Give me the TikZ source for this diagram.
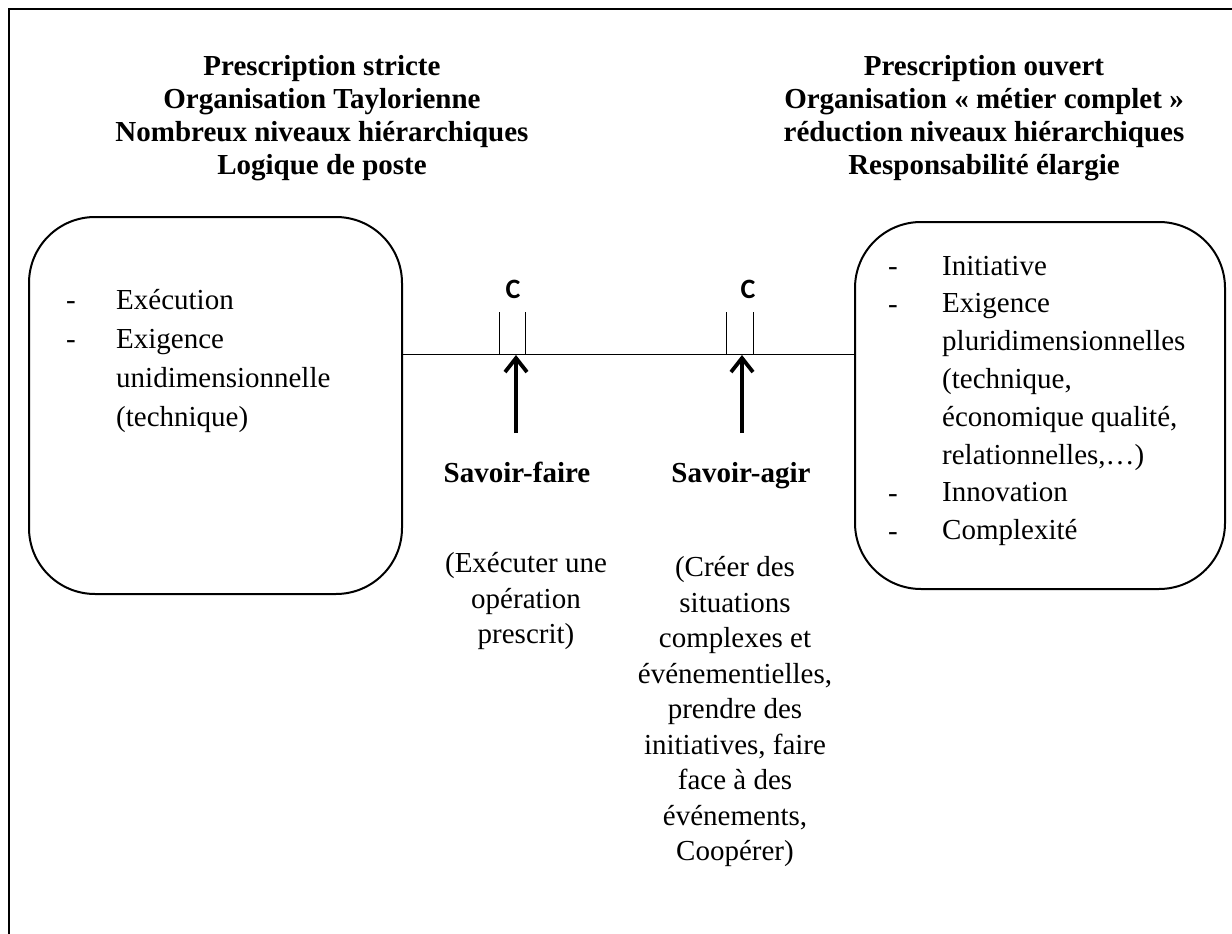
\documentclass[tikz,border=0pt]{standalone}
\usepackage{fontspec}
\setmainfont{Liberation Serif}
\newfontfamily\calibrifont[BoldFont={Carlito Bold}]{Carlito}
\usetikzlibrary{arrows.meta}
\begin{document}
\begin{tikzpicture}[x=1pt,y=-1pt,
  frame/.style={line width=2.6pt},
  pillar/.style={draw, line width=2pt, rounded corners=66pt, anchor=north west, inner sep=0},
  axis/.style={line width=1pt},
  tick/.style={line width=1pt},
  lift/.style={line width=3.8pt, -{Straight Barb[length=14pt,width=22pt]}},
  head/.style={font=\bfseries\fontsize{29}{33}\selectfont, align=center, inner sep=0, anchor=north},
  skill/.style={font=\bfseries\fontsize{29}{35}\selectfont, inner sep=0, anchor=base},
  gloss/.style={font=\fontsize{29}{35.5}\selectfont, align=center, inner sep=0, anchor=north},
  listleft/.style={font=\fontsize{29}{39}\selectfont, align=left, inner sep=0, anchor=north west},
  listright/.style={font=\fontsize{29}{37.8}\selectfont, align=left, inner sep=0, anchor=north west},
  bullet/.style={font=\fontsize{29}{35}\selectfont, inner sep=0, anchor=base},
  cmark/.style={font=\calibrifont\bfseries\fontsize{28}{30}\selectfont, inner sep=0, anchor=base}
]
\useasboundingbox (0,0) rectangle (1232,934);

% page frame (top and left edges)
\draw[frame] (9,940) -- (9,9) -- (1240,9);

% column headings
\node[head] (hleft) at (322,51.9) {\strut Prescription stricte\\Organisation Taylorienne\\Nombreux niveaux hiérarchiques\\Logique de poste};
\node[head] (hright) at (984,51.9) {\strut Prescription ouvert\\Organisation « métier complet »\\réduction niveaux hiérarchiques\\Responsabilité élargie};

% the two rounded boxes
\node[pillar, minimum width=373pt, minimum height=377pt] (left) at (28,216) {};
\node[pillar, minimum width=370pt, minimum height=367pt] (right) at (854,221) {};

% list in the left box
\node[bullet] (ld1) at (71,309) {-};
\node[bullet] (ld2) at (71,348) {-};
\node[listleft] (ltext) at (116,281.7) {\strut Exécution\\Exigence\\unidimensionnelle\\(technique)};

% list in the right box
\node[bullet] (rd1) at (893,275) {-};
\node[bullet] (rd2) at (893,313) {-};
\node[bullet] (rd3) at (893,502) {-};
\node[bullet] (rd4) at (893,540) {-};
\node[listright] (rtext) at (942,248.5) {\strut Initiative\\Exigence\\pluridimensionnelles\\(technique,\\économique qualité,\\relationnelles,\dots)\\Innovation\\Complexité};

% axis between the boxes
\coordinate (axisy) at (0,354);
\draw[axis] (left.east |- axisy) -- (right.west |- axisy);

% competence marks on the axis
\draw[tick] (499,312) -- (499,354);
\draw[tick] (525,312) -- (525,354);
\draw[tick] (726,312) -- (726,354);
\draw[tick] (753,312) -- (753,354);
\node[cmark] (c1) at (513,298.5) {C};
\node[cmark] (c2) at (748,298.5) {C};

% arrows pointing up to the axis
\coordinate (sfbase) at (516,433);
\coordinate (sftip) at (516,355);
\coordinate (sabase) at (742,433);
\coordinate (satip) at (742,355);
\draw[lift] (sfbase) -- (sftip);
\draw[lift] (sabase) -- (satip);

% labels under the arrows
\node[skill] (sf) at (517,482) {Savoir-faire};
\node[skill] (sa) at (741,482) {Savoir-agir};
\node[gloss] (sfg) at (526,547.5) {\strut (Exécuter une\\opération\\prescrit)};
\node[gloss] (sag) at (735,551.5) {\strut (Créer des\\situations\\complexes et\\événementielles,\\prendre des\\initiatives, faire\\face à des\\événements,\\Coopérer)};
\end{tikzpicture}
\end{document}
